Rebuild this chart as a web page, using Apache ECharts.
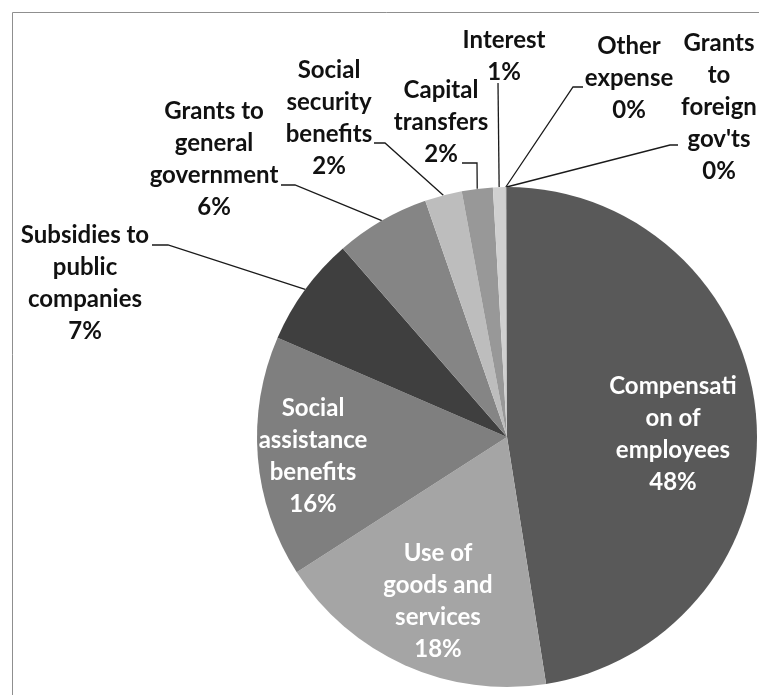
<!DOCTYPE html>
<html>
<head>
<meta charset="utf-8">
<script src="https://cdn.jsdelivr.net/npm/echarts@6/dist/echarts.min.js"></script>
<style>
  html, body { margin: 0; padding: 0; background: #fff; }
  #chart { width: 759px; height: 695px; }
</style>
</head>
<body>
<div id="chart"></div>
<script>
// expense categories, wrapped the way the labels are wrapped
const categories = [
  'Compensati\non of\nemployees',
  'Use of\ngoods and\nservices',
  'Social\nassistance\nbenefits',
  'Subsidies to\npublic\ncompanies',
  'Grants to\ngeneral\ngovernment',
  'Social\nsecurity\nbenefits',
  'Capital\ntransfers',
  'Interest',
  'Other\nexpense',
  'Grants\nto\nforeign\ngov\'ts'
];
// share of total
const values = [47.5, 18.4, 15.6, 7.1, 6.1, 2.4, 2.0, 0.8, 0.05, 0.05];
// percentages as printed on the chart
const pctLabels = ['48%', '18%', '16%', '7%', '6%', '2%', '2%', '1%', '0%', '0%'];
const colors = ['#595959', '#a5a5a5', '#7f7f7f', '#3f3f3f', '#858585',
                '#bdbdbd', '#989898', '#d0d0d0', '#b0b0b0', '#6a6a6a'];

const PIE_C = [507, 437];
const PIE_R = 250;

// where each label block sits (centre) and the elbow of its leader line
const labelSpots = [
  { x: 673, y: 434 },
  { x: 438, y: 601 },
  { x: 313, y: 456 },
  { x: 85,  y: 283, line: [[168, 245], [152, 245]] },
  { x: 214, y: 159, line: [[295, 185], [281, 185]] },
  { x: 329, y: 118, line: [[385, 143], [374, 143]] },
  { x: 441, y: 122, line: [[477, 163], [462, 163]] },
  { x: 504, y: 56,  line: [[498, 83], [498, 83]] },
  { x: 629, y: 78,  line: [[573, 87], [583, 87]] },
  { x: 719, y: 107, line: [[670, 145], [678, 145]] }
];
const insideCount = 3;

function edgePoint(idx) {
  const total = values.reduce((a, b) => a + b, 0);
  let before = 0;
  for (let i = 0; i < idx; i++) before += values[i];
  const mid = (before + values[idx] / 2) / total * Math.PI * 2;
  return [PIE_C[0] + PIE_R * Math.sin(mid), PIE_C[1] - PIE_R * Math.cos(mid)];
}

const seriesData = categories.map((name, i) => {
  const inside = i < insideCount;
  return {
    name: name,
    value: values[i],
    itemStyle: { color: colors[i] },
    label: {
      position: inside ? 'inside' : 'outside',
      color: inside ? '#ffffff' : '#111111'
    },
    labelLine: { show: !inside }
  };
});

const chart = echarts.init(document.getElementById('chart'));
chart.setOption({
  animation: false,
  backgroundColor: '#ffffff',
  graphic: [{
    type: 'rect',
    shape: { x: 12.5, y: 12.5, width: 900, height: 900 },
    style: { fill: 'none', stroke: '#8f8f8f', lineWidth: 1 },
    silent: true
  }],
  series: [{
    type: 'pie',
    center: PIE_C,
    radius: PIE_R,
    startAngle: 90,
    clockwise: true,
    avoidLabelOverlap: false,
    minShowLabelAngle: 0,
    itemStyle: { borderWidth: 0 },
    label: {
      show: true,
      fontFamily: 'Lato',
      fontWeight: 'bold',
      fontSize: 24,
      lineHeight: 32,
      align: 'center',
      formatter: p => p.name + '\n' + pctLabels[p.dataIndex]
    },
    labelLine: {
      show: true,
      length: 10,
      length2: 10,
      lineStyle: { color: '#1a1a1a', width: 1.3 }
    },
    labelLayout: function (p) {
      const s = labelSpots[p.dataIndex];
      const out = { x: s.x, y: s.y, align: 'center', verticalAlign: 'middle', hideOverlap: false };
      if (s.line) {
        out.labelLinePoints = [edgePoint(p.dataIndex), s.line[0], s.line[1]];
      }
      return out;
    },
    data: seriesData
  }]
});
</script>
</body>
</html>
